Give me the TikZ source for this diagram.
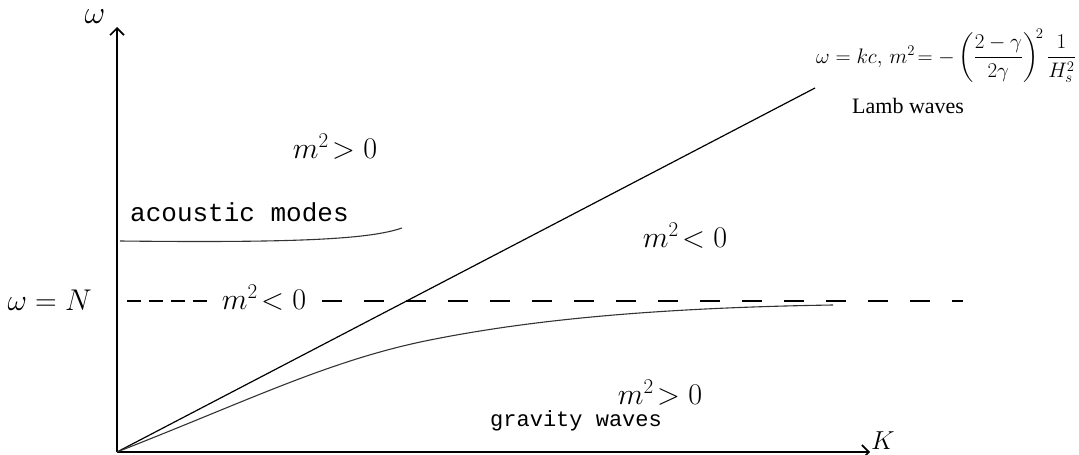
\RequirePackage{fix-cm}
\documentclass[tikz,border=0pt]{standalone}
\usepackage{fontspec}
\usepackage{amsmath}
\newfontfamily\typew{Liberation Mono}
\newfontfamily\serifb{Liberation Serif}
\usetikzlibrary{arrows.meta}
\begin{document}
\begin{tikzpicture}[x=1pt,y=-1pt,
  axis/.style={line width=1.6pt,-{Straight Barb[length=7pt,width=14pt,line width=1.6pt]}},
  branch/.style={line width=1.1pt,black!80},
  lamb/.style={line width=1.2pt},
  hand/.style={inner sep=0pt,font=\fontsize{30}{32}\selectfont},
  typed/.style={inner sep=0pt,font=\typew\fontsize{26}{28}\selectfont}]
\useasboundingbox (0,0) rectangle (1079,455);
% axes
\coordinate (O) at (117,452);
\coordinate (Ytop) at (117,27);
\coordinate (Xend) at (870,452);
\draw[axis] (O) -- (Ytop);
\draw[axis] (O) -- (Xend);
\node[inner sep=0pt,font=\fontsize{32}{34}\selectfont] (wlab) at (95,17) {$\omega$};
\node[inner sep=0pt,anchor=west,font=\fontsize{26}{28}\selectfont] (klab) at (871,441) {$K$};
% omega = N dashed line
\coordinate (D1) at (127,301);
\coordinate (D2) at (208,301);
\coordinate (D3) at (322,301);
\coordinate (D4) at (963,301);
\draw[line width=1.1pt,dash pattern=on 14pt off 8pt] (D1) -- (D2);
\draw[line width=1.1pt,dash pattern=on 20pt off 22pt] (D3) -- (D4);
\node[hand,anchor=east] (wN) at (92,300) {$\omega = N$};
\node[hand] (mneg1) at (264,298) {$m^2\!<0$};
% Lamb line
\coordinate (L) at (815,88);
\draw[lamb] (O) -- (L);
\node[inner sep=0pt,anchor=west,font=\fontsize{21}{23}\selectfont] (disp) at (816,56)
  {$\omega = kc,\, m^2\!= -\left(\dfrac{2-\gamma}{2\gamma}\right)^{\!2}\dfrac{1}{H_s^2}$};
\node[inner sep=0pt,anchor=west,font=\serifb\fontsize{22}{24}\selectfont] (lambw) at (852,106) {Lamb waves};
% acoustic branch
\coordinate (A1) at (120,241);
\coordinate (A2) at (402,228);
\draw[branch] (A1) .. controls (300,243) and (370,239) .. (A2);
\node[typed,anchor=west] (acm) at (130,212) {acoustic modes};
\node[hand] (mpos1) at (335,147) {$m^2\!>0$};
% gravity branch
\coordinate (G1) at (430,340);
\coordinate (G2) at (833,305);
\draw[branch] (O) .. controls (250,400) and (330,360) .. (G1) .. controls (520,322) and (640,308) .. (G2);
\node[hand] (mneg2) at (685,236) {$m^2\!<0$};
\node[hand] (mpos2) at (660,393) {$m^2\!>0$};
\node[inner sep=0pt,anchor=west,font=\typew\fontsize{22}{24}\selectfont] (grw) at (490,421) {gravity waves};
\end{tikzpicture}
\end{document}
